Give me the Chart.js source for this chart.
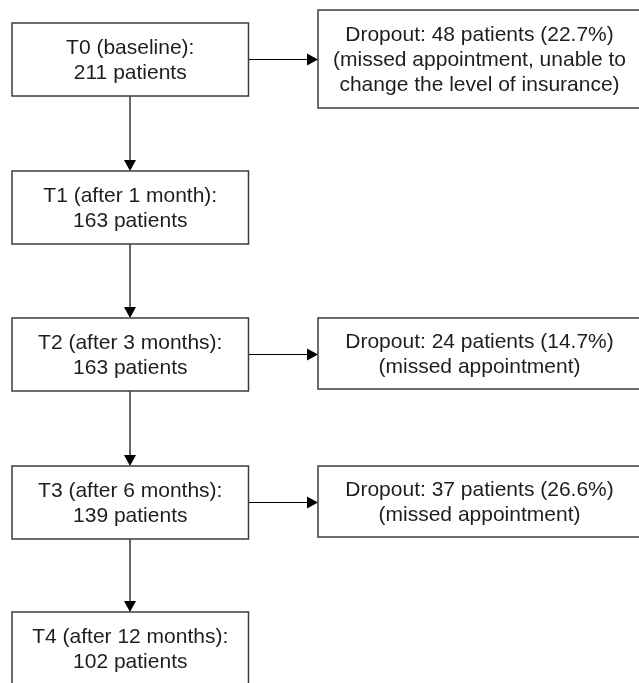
<!DOCTYPE html>
<html>
<head>
<meta charset="utf-8">
<script src="https://cdn.jsdelivr.net/npm/chart.js@4/dist/chart.umd.min.js"></script>
<style>
  html, body { margin: 0; padding: 0; background: #fff; }
  #wrap { width: 639px; height: 683px; position: relative; }
</style>
</head>
<body>
<div id="wrap"><canvas id="c"></canvas></div>
<script>
// ---- Data ----
const stages = ["T0 (baseline)", "T1 (after 1 month)", "T2 (after 3 months)", "T3 (after 6 months)", "T4 (after 12 months)"];
const patients = [211, 163, 163, 139, 102];
const dropoutCounts = [48, null, 24, 37, null];
const dropoutPercents = [22.7, null, 14.7, 26.6, null];
const dropoutReasons = [
  ["(missed appointment, unable to", "change the level of insurance)"],
  null,
  ["(missed appointment)"],
  ["(missed appointment)"],
  null
];

// ---- Layout (in scale units) ----
const mainBoxX = [12, 248.5];
const mainBoxTops = [23, 171, 318, 466, 612];
const mainBoxHeight = 73;
const dropBoxX = [318, 641];
const dropBoxYs = [[10, 108], null, [318, 389], [466, 537], null];
const flowX = 130;

const FONT = '21px "Liberation Sans", Arial, sans-serif';
const LINE_H = 25;

const flowPlugin = {
  id: 'flow',
  afterDraw(chart) {
    const ctx = chart.ctx;
    const xs = chart.scales.x, ys = chart.scales.y;
    const px = v => xs.getPixelForValue(v);
    const py = v => ys.getPixelForValue(v);

    function box(x0, y0, x1, y1, lines) {
      const X0 = px(x0), Y0 = py(y0), X1 = px(x1), Y1 = py(y1);
      ctx.save();
      ctx.fillStyle = '#ffffff';
      ctx.fillRect(X0, Y0, X1 - X0, Y1 - Y0);
      ctx.strokeStyle = '#3c3c3c';
      ctx.lineWidth = 1.5;
      ctx.strokeRect(X0, Y0, X1 - X0, Y1 - Y0);
      ctx.fillStyle = '#1e1e1e';
      ctx.font = FONT;
      ctx.textAlign = 'center';
      ctx.textBaseline = 'middle';
      const cx = (X0 + X1) / 2, cy = (Y0 + Y1) / 2;
      const n = lines.length;
      lines.forEach((t, i) => {
        ctx.fillText(t, cx, cy + (i - (n - 1) / 2) * LINE_H + 1);
      });
      ctx.restore();
    }

    function arrow(x0, y0, x1, y1) {
      const X0 = px(x0), Y0 = py(y0), X1 = px(x1), Y1 = py(y1);
      const ang = Math.atan2(Y1 - Y0, X1 - X0);
      const L = 11, W = 6;
      ctx.save();
      ctx.strokeStyle = '#000';
      ctx.fillStyle = '#000';
      ctx.lineWidth = 1.2;
      ctx.beginPath();
      ctx.moveTo(X0, Y0);
      ctx.lineTo(X1 - Math.cos(ang) * L, Y1 - Math.sin(ang) * L);
      ctx.stroke();
      ctx.beginPath();
      ctx.moveTo(X1, Y1);
      ctx.lineTo(X1 - Math.cos(ang) * L - Math.sin(ang) * W, Y1 - Math.sin(ang) * L + Math.cos(ang) * W);
      ctx.lineTo(X1 - Math.cos(ang) * L + Math.sin(ang) * W, Y1 - Math.sin(ang) * L - Math.cos(ang) * W);
      ctx.closePath();
      ctx.fill();
      ctx.restore();
    }

    // arrows first
    for (let i = 0; i < stages.length - 1; i++) {
      arrow(flowX, mainBoxTops[i] + mainBoxHeight, flowX, mainBoxTops[i + 1]);
    }
    stages.forEach((s, i) => {
      if (dropoutCounts[i] != null) {
        const cy = mainBoxTops[i] + mainBoxHeight / 2;
        arrow(mainBoxX[1], cy, dropBoxX[0], cy);
      }
    });

    // boxes
    stages.forEach((s, i) => {
      box(mainBoxX[0], mainBoxTops[i], mainBoxX[1], mainBoxTops[i] + mainBoxHeight,
        [s + ':', patients[i] + ' patients']);
      if (dropoutCounts[i] != null) {
        const lines = ['Dropout: ' + dropoutCounts[i] + ' patients (' + dropoutPercents[i].toFixed(1) + '%)']
          .concat(dropoutReasons[i] || []);
        box(dropBoxX[0], dropBoxYs[i][0], dropBoxX[1], dropBoxYs[i][1], lines);
      }
    });
  }
};

new Chart(document.getElementById('c'), {
  type: 'scatter',
  data: {
    datasets: [{
      label: 'Patients',
      data: stages.map((s, i) => ({ x: flowX, y: mainBoxTops[i] + mainBoxHeight / 2, v: patients[i] })),
      pointRadius: 0,
      pointHoverRadius: 0
    }]
  },
  options: {
    responsive: true,
    maintainAspectRatio: false,
    animation: false,
    layout: { padding: 0 },
    plugins: { legend: { display: false }, tooltip: { enabled: false } },
    scales: {
      x: { type: 'linear', min: 0, max: 639, display: false },
      y: { type: 'linear', min: 0, max: 683, reverse: true, display: false }
    }
  },
  plugins: [flowPlugin]
});
</script>
</body>
</html>
